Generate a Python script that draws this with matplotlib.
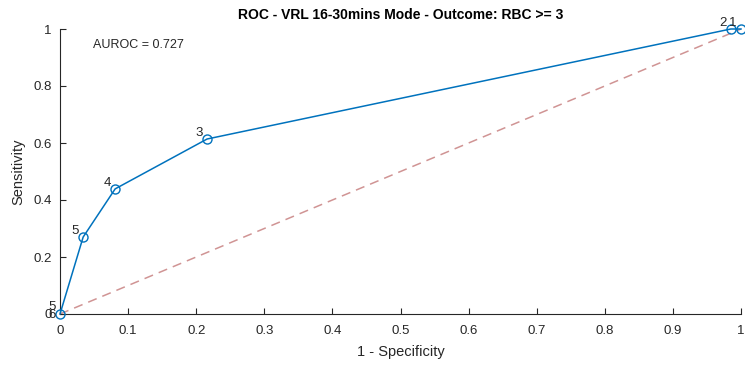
import matplotlib
matplotlib.use("Agg")
import matplotlib.pyplot as plt

plt.rcParams['font.family'] = ['Liberation Sans', 'DejaVu Sans']

fpr = [0.0, 0.034, 0.081, 0.216, 0.985, 1.0]
tpr = [0.0, 0.270, 0.439, 0.614, 1.0, 1.0]
labels = ['6', '5', '4', '3', '2', '1']
auroc = 0.727
title = 'ROC - VRL 16-30mins Mode - Outcome: RBC >= 3'

fig = plt.figure(figsize=(7.45, 3.69), dpi=100)
ax = fig.add_axes([60/745, 1-314/369, 681/745, 285/369])

ax.plot([0, 1], [0, 1], linestyle=(0, (6, 4)), color='#d09494', linewidth=1.1)
ax.plot(fpr, tpr, color='#0072BD', linewidth=1.1, marker='o', markersize=6.5,
        markerfacecolor='none', markeredgecolor='#0072BD', markeredgewidth=1.0,
        clip_on=False, zorder=3)

offsets = {'6': (-3, -1), '5': (-3, 4), '4': (-3, 4), '3': (-3, 4), '2': (-3, 4), '1': (-3, 4)}
for x, y, lab in zip(fpr, tpr, labels):
    dx, dy = offsets[lab]
    ax.annotate(lab, (x, y), xytext=(dx, dy), textcoords='offset points',
                ha='right', va='center', fontsize=9.5, color='#262626')
# extra label at origin
ax.annotate('5', (0, 0), xytext=(-3, 5), textcoords='offset points',
            ha='right', va='center', fontsize=9.5, color='#262626')

ax.text(0.048, 0.944, f'AUROC = {auroc}', fontsize=9, color='#262626', va='center')

ax.set_xlim(0, 1)
ax.set_ylim(0, 1)
ax.set_xticks([i/10 for i in range(11)])
ax.set_xticklabels(['0', '0.1', '0.2', '0.3', '0.4', '0.5', '0.6', '0.7', '0.8', '0.9', '1'])
ax.set_yticks([0, 0.2, 0.4, 0.6, 0.8, 1.0])
ax.set_yticklabels(['0', '0.2', '0.4', '0.6', '0.8', '1'])
ax.tick_params(direction='in', length=4, width=0.8, colors='#262626', labelsize=9.5)
ax.tick_params(axis='x', pad=8)
ax.tick_params(axis='y', pad=6)
for s in ['top', 'right']:
    ax.spines[s].set_visible(False)
for s in ['left', 'bottom']:
    ax.spines[s].set_color('#262626')
    ax.spines[s].set_linewidth(0.8)

ax.set_xlabel('1 - Specificity', fontsize=10.5, color='#262626', labelpad=6)
ax.set_ylabel('Sensitivity', fontsize=10.5, color='#262626', labelpad=6)
ax.set_title(title, fontsize=10, fontweight='bold', color='#000000', pad=7)

fig.savefig('out.png', dpi=100)
